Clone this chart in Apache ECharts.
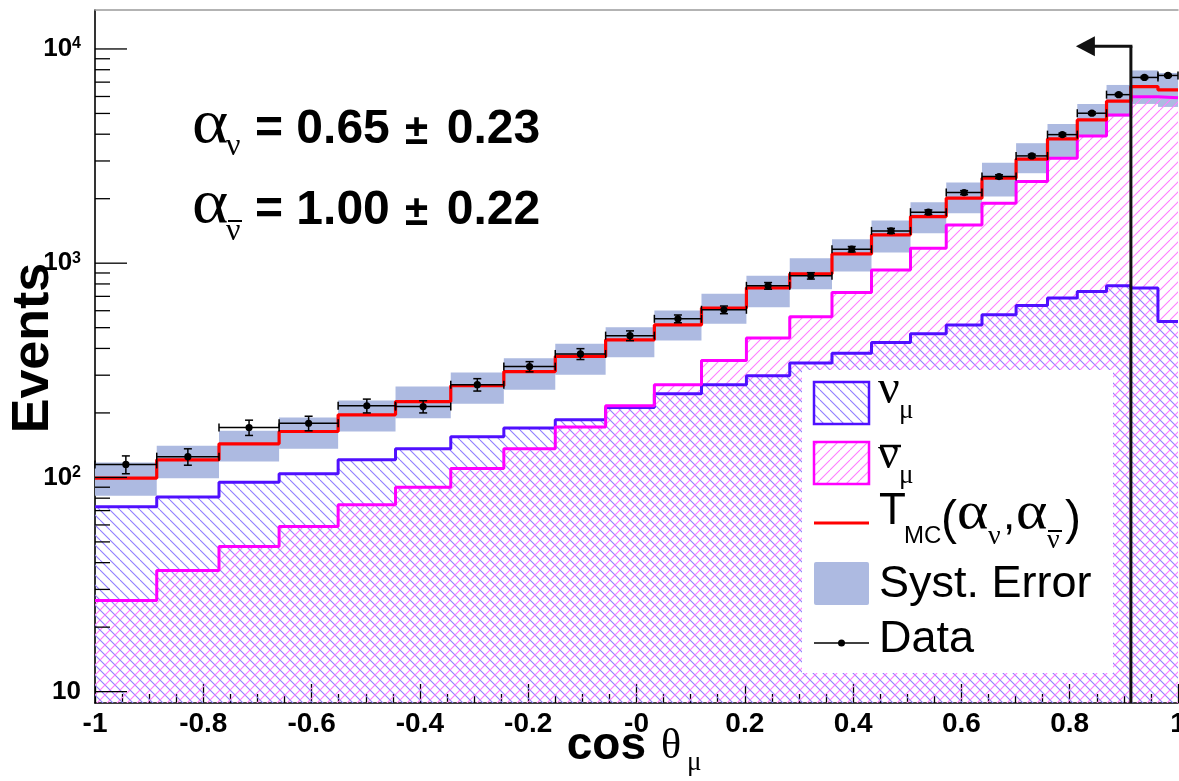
<!DOCTYPE html>
<html>
<head>
<meta charset="utf-8">
<script src="https://cdn.jsdelivr.net/npm/echarts@6/dist/echarts.min.js"></script>
<style>
  html, body { margin: 0; padding: 0; background: #ffffff; overflow: hidden; }
  #chart { width: 1179px; height: 781px; }
</style>
</head>
<body>
<div id="chart"></div>
<script>
// Bin edges in cos(theta_mu) (25 variable-width bins)
const binEdges = [-1, -0.886, -0.771, -0.660, -0.551, -0.445, -0.343, -0.245, -0.150, -0.057,
  0.033, 0.120, 0.203, 0.283, 0.361, 0.434, 0.506, 0.572, 0.638, 0.701,
  0.759, 0.814, 0.868, 0.913, 0.963, 1.0];

// Expected neutrino (nu_mu) events per bin
const nuMu = [73, 81, 95, 104, 121, 136, 155, 170, 186, 212, 246, 271, 298, 342, 380,
  426, 468, 515, 574, 634, 687, 737, 784, 765, 534];

// Expected antineutrino (nu_mu bar) events per bin
const nuMuBar = [26.6, 36.8, 47.6, 59, 74.5, 90, 110, 136, 172, 216, 271, 351, 447, 563, 729,
  930, 1175, 1509, 1905, 2404, 3090, 3926, 4920, 5990, 5925];

// Fitted template T_MC(alpha_nu, alpha_nubar)
const tmcFit = [99.2, 120.8, 143.5, 163.8, 196, 226, 268, 312, 367, 439, 515, 617, 767, 892, 1105,
  1356, 1650, 2011, 2493, 3057, 3802, 4665, 5702, 6671, 6437];

// Systematic error band (lower / upper edge)
const systLow = [82.1, 99.2, 118.7, 136, 163.8, 189.1, 220.5, 256.3, 301.2, 364.2, 435.4, 521, 623, 756, 914,
  1121, 1380, 1711, 2046, 2630, 3123, 3897, 4832, 5538, 5362];
const systHigh = [117.3, 140.4, 165, 190.3, 228.5, 265.6, 308.7, 360.4, 420.2, 502.8, 601, 719, 873, 1055, 1294,
  1580, 1926, 2378, 2947, 3631, 4467, 5538, 6792, 7937, 7727];

// Observed data and statistical errors
const dataCounts = [115, 125, 171, 179, 216, 214, 271, 329, 377, 459, 550, 606, 784, 873, 1162,
  1415, 1730, 2135, 2536, 3168, 3982, 5012, 6119, 7362, 7521];
const dataErrors = [11, 11, 14, 14, 16, 14, 18, 18, 22, 24, 23, 25, 28, 30, 34,
  38, 42, 46, 50, 56, 63, 71, 78, 86, 87];

// Selection cut shown with the arrow
const cutValue = 0.913;
const cutArrowTop = 10300;

// Axis ticks and labels
const xTickValues = [-1, -0.8, -0.6, -0.4, -0.2, 0, 0.2, 0.4, 0.6, 0.8, 1];
const xTickText = ['-1', '-0.8', '-0.6', '-0.4', '-0.2', '-0', '0.2', '0.4', '0.6', '0.8', '1'];
const yMajorTicks = [10, 100, 1000, 10000];
const yMinorTicks = [20, 30, 40, 50, 60, 70, 80, 90,
  200, 300, 400, 500, 600, 700, 800, 900,
  2000, 3000, 4000, 5000, 6000, 7000, 8000, 9000];
const yMin = 8.85, yMax = 15200;

const SANS = '"Liberation Sans", Arial, Helvetica, sans-serif';
const SERIF = '"Liberation Serif", "Times New Roman", serif';
const BLUE = '#5010ff', MAGENTA = '#ff00ff', RED = '#ff0000', BAND = '#adbae1';

// diagonal hatch tile used as a repeating fill
function hatch(color, dir) {
  const s = 10;
  const c = document.createElement('canvas');
  c.width = s; c.height = s;
  const g = c.getContext('2d');
  g.clearRect(0, 0, s, s);
  g.strokeStyle = color;
  g.lineWidth = 1.1;
  for (const k of [-s, 0, s]) {
    g.beginPath();
    if (dir === '\\') { g.moveTo(k, 0); g.lineTo(k + s, s); }
    else { g.moveTo(k, s); g.lineTo(k + s, 0); }
    g.stroke();
  }
  return { image: c, repeat: 'repeat' };
}
const hatchNu = hatch('#8f7cff', '\\');
const hatchNuBar = hatch('#ff7cff', '/');

function stepData(vals) {
  return binEdges.map((e, i) => [e, vals[Math.min(i, vals.length - 1)]]);
}

const bandData = tmcFit.map((_, i) => [binEdges[i], systLow[i], binEdges[i + 1], systHigh[i]]);
const pointData = dataCounts.map((v, i) => [(binEdges[i] + binEdges[i + 1]) / 2, v, binEdges[i], binEdges[i + 1], dataErrors[i]]);
const yTickData = yMajorTicks.map(v => [-1, v, 1]).concat(yMinorTicks.map(v => [-1, v, 0]));

// text placed by baseline: canvas 'middle' sits ~0.345 em above the baseline
function txt(str, x, baseline, size, family, weight, extra) {
  const el = {
    type: 'text', x: x, y: baseline - 0.345 * size, z: 100,
    style: {
      text: str, font: (weight || 'normal') + ' ' + size + 'px ' + family, fill: '#000',
      align: 'left', verticalAlign: 'middle', textAlign: 'left', textVerticalAlign: 'middle'
    }
  };
  return Object.assign(el, extra || {});
}
function bar(x1, x2, y, w) {
  return { type: 'line', z: 100, shape: { x1: x1, y1: y, x2: x2, y2: y }, style: { stroke: '#000', lineWidth: w || 2 } };
}

const graphics = [
  // fit results
  txt('α', 192, 146.7, 62, SERIF, 'normal', { scaleX: 1.12 }), txt('ν', 226, 157.5, 32, SERIF),
  txt('= 0.65', 255, 146.7, 48, SANS, 'bold'), txt('±', 405, 146.7, 42, SANS, 'bold'),
  txt('0.23', 446.7, 146.7, 48, SANS, 'bold'),
  txt('α', 192, 227.5, 62, SERIF, 'normal', { scaleX: 1.12 }), txt('ν', 226, 243, 32, SERIF), bar(228, 242, 221, 2),
  txt('= 1.00', 255, 227.5, 48, SANS, 'bold'), txt('±', 405, 227.5, 42, SANS, 'bold'),
  txt('0.22', 446.7, 227.5, 48, SANS, 'bold'),
  // axis titles
  { type: 'text', x: 34, y: 348, rotation: Math.PI / 2, z: 100,
    style: { text: 'Events', font: 'bold 52px ' + SANS, fill: '#000', align: 'center', verticalAlign: 'middle',
      textAlign: 'center', textVerticalAlign: 'middle' } },
  txt('cos', 566.7, 761.7, 46, SANS, 'bold'), txt('θ', 661, 761.7, 42, SERIF), txt('μ', 687, 772, 27, SERIF),
  // legend
  { type: 'rect', z: 90, shape: { x: 802, y: 370, width: 311, height: 303 }, style: { fill: '#ffffff' } },
  { type: 'rect', z: 100, shape: { x: 814, y: 382, width: 55, height: 42 }, style: { fill: hatchNu, stroke: BLUE, lineWidth: 2.5 } },
  { type: 'rect', z: 100, shape: { x: 814, y: 442, width: 55, height: 42 }, style: { fill: hatchNuBar, stroke: MAGENTA, lineWidth: 2.5 } },
  { type: 'line', z: 100, shape: { x1: 814, y1: 523, x2: 869, y2: 523 }, style: { stroke: RED, lineWidth: 3 } },
  { type: 'rect', z: 100, shape: { x: 814, y: 562, width: 55, height: 43, r: 2 }, style: { fill: BAND } },
  { type: 'line', z: 100, shape: { x1: 814, y1: 643, x2: 869, y2: 643 }, style: { stroke: '#000', lineWidth: 1.5 } },
  { type: 'circle', z: 100, shape: { cx: 841.5, cy: 643, r: 3.5 }, style: { fill: '#000' } },
  txt('ν', 878, 406.5, 48, SERIF), txt('μ', 899, 420, 27, SERIF),
  txt('ν', 878, 472, 46, SERIF), bar(880, 901, 446, 2.5), txt('μ', 899, 485, 27, SERIF),
  txt('T', 879, 527, 44, SANS), txt('MC', 904, 545, 24, SANS),
  txt('(', 941, 537, 48, SANS),
  txt('α', 957, 532, 52, SERIF, 'normal', { scaleX: 1.15 }), txt('ν', 988, 546, 28, SERIF),
  txt(',', 1003, 532, 44, SANS),
  txt('α', 1016, 532, 52, SERIF, 'normal', { scaleX: 1.15 }), txt('ν', 1047, 550, 28, SERIF),
  bar(1048, 1062, 531, 2),
  txt(')', 1065, 537, 48, SANS),
  txt('Syst. Error', 879, 600, 45, SANS),
  txt('Data', 879, 655, 45, SANS)
];

const chart = echarts.init(document.getElementById('chart'), null, { renderer: 'canvas' });
chart.setOption({
  animation: false,
  backgroundColor: '#ffffff',
  grid: { left: 95, right: 1, top: 10, bottom: 78, containLabel: false, outerBoundsMode: 'none' },
  xAxis: [{
    type: 'value', min: -1, max: 1, interval: 0.2,
    axisLine: { show: true, onZero: false, lineStyle: { color: '#000', width: 1.6 } },
    axisTick: { show: true, inside: true, length: 19, lineStyle: { color: '#000', width: 1.3 } },
    minorTick: { show: true, splitNumber: 4, length: 9, lineStyle: { color: '#000', width: 1.3 } },
    splitLine: { show: false }, minorSplitLine: { show: false },
    axisLabel: {
      margin: 7, color: '#000', fontSize: 28, fontWeight: 'bold', fontFamily: SANS, hideOverlap: false,
      formatter: v => {
        const k = xTickValues.findIndex(t => Math.abs(t - v) < 1e-6);
        return k < 0 ? '' : xTickText[k];
      }
    }
  }, {
    type: 'value', min: -1, max: 1, position: 'top',
    axisLine: { show: true, lineStyle: { color: '#9a9a9a', width: 1.5 } },
    axisTick: { show: false }, axisLabel: { show: false }, splitLine: { show: false }
  }],
  yAxis: {
    type: 'log', logBase: 10, min: yMin, max: yMax,
    axisLine: { show: true, onZero: false, lineStyle: { color: '#000', width: 1.6 } },
    axisTick: { show: false }, minorTick: { show: false },
    splitLine: { show: false }, minorSplitLine: { show: false },
    axisLabel: {
      margin: 14, showMinLabel: false, showMaxLabel: false,
      formatter: v => {
        const e = Math.round(Math.log10(v));
        if (Math.abs(Math.log10(v) - e) > 1e-6) return '';
        return e === 1 ? '{b|10}' : '{b|10}{s|' + e + '}';
      },
      rich: {
        b: { fontSize: 26, fontWeight: 'bold', fontFamily: SANS, color: '#000' },
        s: { fontSize: 16, fontWeight: 'bold', fontFamily: SANS, color: '#000', verticalAlign: 'top' }
      }
    }
  },
  graphic: graphics,
  series: [
    {
      name: 'Syst. Error', type: 'custom', z: 1, data: bandData,
      encode: { x: [0, 2], y: [1, 3] },
      renderItem: (params, api) => {
        const p1 = api.coord([api.value(0), api.value(3)]);
        const p2 = api.coord([api.value(2), api.value(1)]);
        return { type: 'rect', shape: { x: p1[0], y: p1[1], width: p2[0] - p1[0], height: p2[1] - p1[1] },
          style: { fill: BAND } };
      }
    },
    {
      name: 'nu_mu', type: 'line', z: 2, step: 'end', showSymbol: false, data: stepData(nuMu),
      lineStyle: { color: BLUE, width: 3 }, itemStyle: { color: BLUE },
      areaStyle: { color: hatchNu, origin: 'start', opacity: 1 }
    },
    {
      name: 'nu_mu_bar', type: 'line', z: 2, step: 'end', showSymbol: false, data: stepData(nuMuBar),
      lineStyle: { color: MAGENTA, width: 3 }, itemStyle: { color: MAGENTA },
      areaStyle: { color: hatchNuBar, origin: 'start', opacity: 1 }
    },
    {
      name: 'T_MC', type: 'line', z: 3, step: 'end', showSymbol: false, data: stepData(tmcFit),
      lineStyle: { color: RED, width: 3.2 }, itemStyle: { color: RED }
    },
    {
      name: 'Data', type: 'custom', z: 4, data: pointData,
      encode: { x: 0, y: 1 },
      renderItem: (params, api) => {
        const v = api.value(1), err = api.value(4);
        const c = api.coord([api.value(0), v]);
        const l = api.coord([api.value(2), v]);
        const r = api.coord([api.value(3), v]);
        const hi = api.coord([api.value(0), v + err]);
        const lo = api.coord([api.value(0), v - err]);
        const st = { stroke: '#000', lineWidth: 1.5 };
        return { type: 'group', children: [
          { type: 'line', shape: { x1: l[0], y1: c[1], x2: r[0], y2: c[1] }, style: st },
          { type: 'line', shape: { x1: l[0], y1: c[1] - 4, x2: l[0], y2: c[1] + 4 }, style: st },
          { type: 'line', shape: { x1: r[0], y1: c[1] - 4, x2: r[0], y2: c[1] + 4 }, style: st },
          { type: 'line', shape: { x1: c[0], y1: hi[1], x2: c[0], y2: lo[1] }, style: st },
          { type: 'line', shape: { x1: c[0] - 4, y1: hi[1], x2: c[0] + 4, y2: hi[1] }, style: st },
          { type: 'line', shape: { x1: c[0] - 4, y1: lo[1], x2: c[0] + 4, y2: lo[1] }, style: st },
          { type: 'circle', shape: { cx: c[0], cy: c[1], r: 3.6 }, style: { fill: '#000' } }
        ] };
      }
    },
    {
      name: 'Cut', type: 'custom', z: 5, data: [[cutValue, cutArrowTop]],
      encode: { x: 0, y: 1 },
      renderItem: (params, api) => {
        const top = api.coord([api.value(0), api.value(1)]);
        const bottom = api.coord([api.value(0), yMin]);
        const st = { stroke: '#111', lineWidth: 3 };
        return { type: 'group', children: [
          { type: 'line', shape: { x1: top[0], y1: top[1], x2: bottom[0], y2: bottom[1] }, style: st },
          { type: 'line', shape: { x1: top[0] + 1.5, y1: top[1], x2: top[0] - 38, y2: top[1] }, style: st },
          { type: 'polygon', shape: { points: [[top[0] - 55, top[1]], [top[0] - 36, top[1] - 10], [top[0] - 36, top[1] + 10]] },
            style: { fill: '#111' } }
        ] };
      }
    },
    {
      name: 'yTicks', type: 'custom', z: 6, data: yTickData,
      encode: { x: 0, y: 1 },
      renderItem: (params, api) => {
        const p = api.coord([api.value(0), api.value(1)]);
        const len = api.value(2) ? 32 : 15;
        return { type: 'line', shape: { x1: p[0], y1: p[1], x2: p[0] + len, y2: p[1] },
          style: { stroke: '#000', lineWidth: 1.3 } };
      }
    }
  ]
});
</script>
</body>
</html>
